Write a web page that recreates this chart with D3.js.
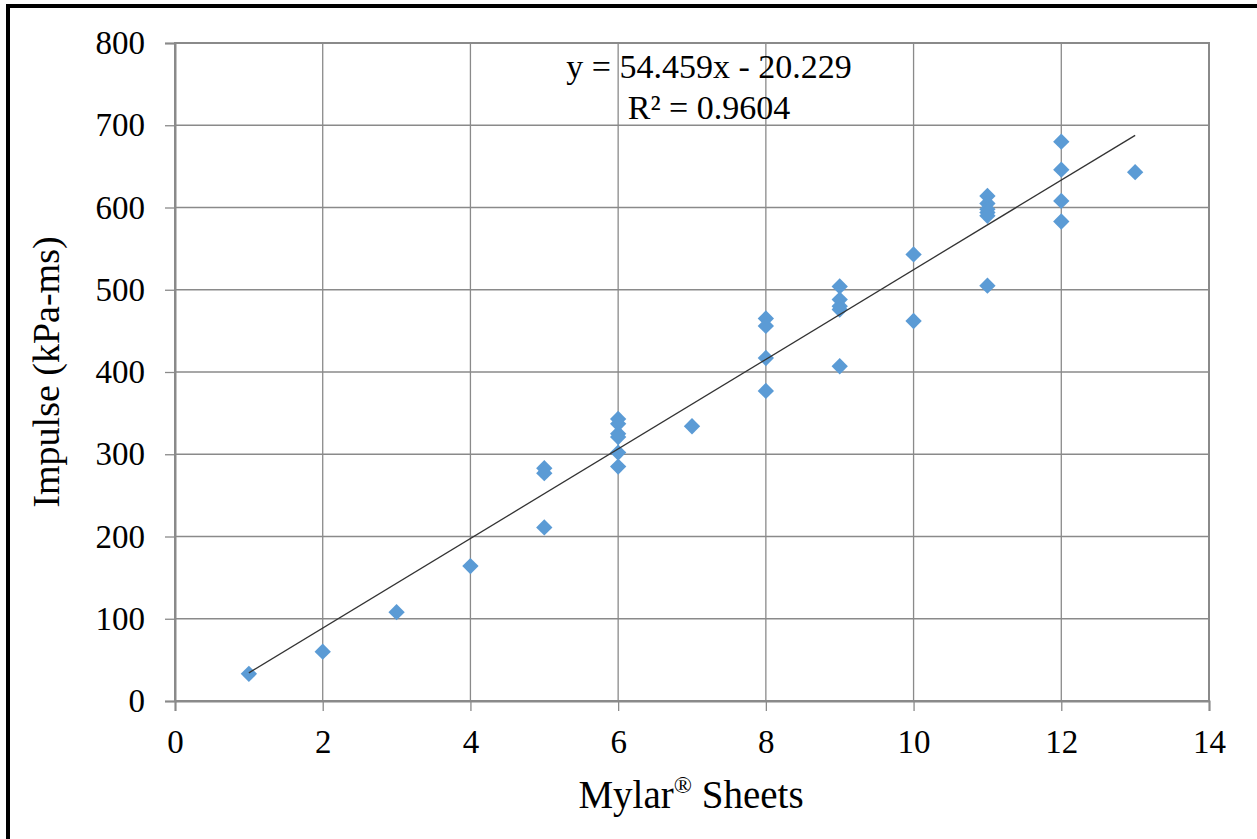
<!DOCTYPE html>
<html>
<head>
<meta charset="utf-8">
<script src="https://cdn.jsdelivr.net/npm/d3@7"></script>
<style>
  html, body { margin: 0; padding: 0; background: #fff; }
  svg { display: block; }
  text { font-family: "Liberation Serif", "Times New Roman", serif; fill: #000; }
</style>
</head>
<body>
<svg id="chart" width="1257" height="839"></svg>
<script>
// Data
const sheets = [1, 2, 3, 4, 5, 5, 5, 6, 6, 6, 6, 6, 6, 7, 8, 8, 8, 8, 9, 9, 9, 9, 9, 10, 10, 11, 11, 11, 11, 11, 11, 12, 12, 12, 12, 13];
const impulse = [33, 60, 108, 164, 283, 277, 211, 343, 337, 325, 321, 302, 285, 334, 465, 456, 417, 377, 504, 488, 480, 476, 407, 543, 462, 614, 605, 598, 594, 590, 505, 680, 646, 608, 583, 643];
const xTicks = [0, 2, 4, 6, 8, 10, 12, 14];
const yTicks = [0, 100, 200, 300, 400, 500, 600, 700, 800];
const slope = 54.459, intercept = -20.229;
const trendRange = [1, 13];
const eqLabel = "y = 54.459x - 20.229";
const r2Label = "R² = 0.9604";
const xTitle = "Mylar";
const yTitle = "Impulse (kPa-ms)";

const FONT = "'Liberation Serif', 'Times New Roman', serif";
const svg = d3.select("#chart");
const pL = 175, pR = 1209, pT = 43, pB = 701;
const x = d3.scaleLinear().domain([0, 14]).range([pL, pR]);
const y = d3.scaleLinear().domain([0, 800]).range([pB, pT]);

// outer black frame
svg.append("rect").attr("x", 8).attr("y", 6).attr("width", 1270).attr("height", 860)
  .attr("fill", "none").attr("stroke", "#000").attr("stroke-width", 4);

// gridlines
svg.append("g").selectAll("line").data(yTicks.slice(1)).join("line")
  .attr("x1", pL).attr("x2", pR).attr("y1", d => y(d)).attr("y2", d => y(d))
  .attr("stroke", "#8a8a8a").attr("stroke-width", 1.3);
svg.append("g").selectAll("line").data(xTicks.slice(1)).join("line")
  .attr("y1", pT).attr("y2", pB).attr("x1", d => x(d)).attr("x2", d => x(d))
  .attr("stroke", "#8a8a8a").attr("stroke-width", 1.3);

// plot border
svg.append("rect").attr("x", pL).attr("y", pT).attr("width", pR - pL).attr("height", pB - pT)
  .attr("fill", "none").attr("stroke", "#8a8a8a").attr("stroke-width", 2);

// axes
const xAxis = d3.axisBottom(x).tickValues(xTicks).tickSize(10).tickPadding(10).tickFormat(d3.format("d"));
const gx = svg.append("g").attr("transform", `translate(0,${pB})`).call(xAxis);
const yAxis = d3.axisLeft(y).tickValues(yTicks).tickSize(10).tickPadding(20).tickFormat(d3.format("d"));
const gy = svg.append("g").attr("transform", `translate(${pL},0)`).call(yAxis);
[gx, gy].forEach(g => {
  g.attr("font-family", FONT).attr("font-size", 33);
  g.select(".domain").attr("stroke", "#8a8a8a").attr("stroke-width", 2);
  g.selectAll(".tick line").attr("stroke", "#8a8a8a").attr("stroke-width", 1.3);
  g.selectAll(".tick text").attr("font-family", FONT).attr("font-size", 33).attr("fill", "#000");
});
gx.selectAll(".tick text").attr("dy", "0.98em");

// points (diamonds)
const diamond = d3.symbol().type(d3.symbolDiamond2).size(170);
svg.append("g").selectAll("path").data(sheets.map((s, i) => [s, impulse[i]])).join("path")
  .attr("d", diamond)
  .attr("transform", d => `translate(${x(d[0])},${y(d[1])})`)
  .attr("fill", "#5b9bd5");

// trendline
svg.append("line")
  .attr("x1", x(trendRange[0])).attr("y1", y(slope * trendRange[0] + intercept))
  .attr("x2", x(trendRange[1])).attr("y2", y(slope * trendRange[1] + intercept))
  .attr("stroke", "#333").attr("stroke-width", 1.3);

// equation labels
svg.append("text").attr("x", 709).attr("y", 78).attr("text-anchor", "middle")
  .attr("font-family", FONT).attr("font-size", 34).text(eqLabel);
svg.append("text").attr("x", 709).attr("y", 119).attr("text-anchor", "middle")
  .attr("font-family", FONT).attr("font-size", 34).text(r2Label);

// axis titles
const xt = svg.append("text").attr("x", 691).attr("y", 808).attr("text-anchor", "middle")
  .attr("font-family", FONT).attr("font-size", 39);
xt.append("tspan").text(xTitle);
xt.append("tspan").attr("font-size", 24).attr("dy", -15).text("®");
xt.append("tspan").attr("dy", 15).text(" Sheets");

svg.append("text").attr("transform", "translate(59,372) rotate(-90)")
  .attr("text-anchor", "middle").attr("font-family", FONT).attr("font-size", 38).text(yTitle);
</script>
</body>
</html>
